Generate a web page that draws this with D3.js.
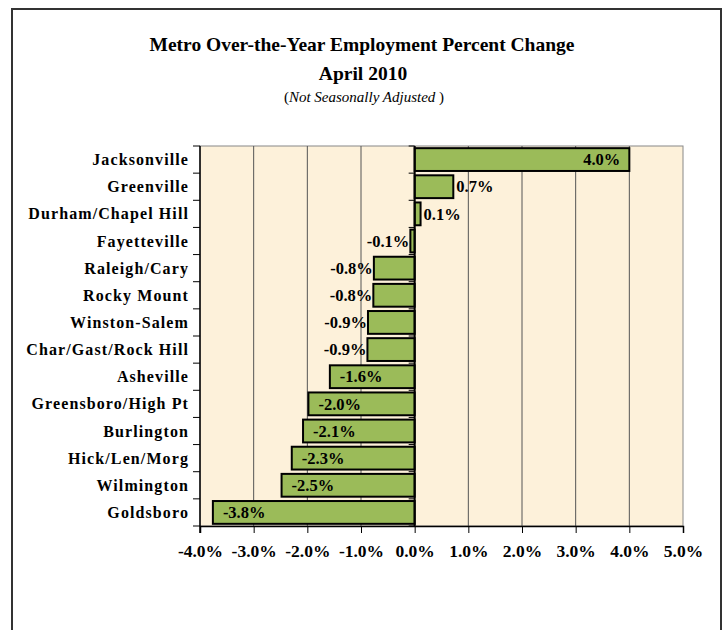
<!DOCTYPE html>
<html>
<head>
<meta charset="utf-8">
<script src="https://cdn.jsdelivr.net/npm/d3@7"></script>
<style>
  body { margin: 0; background: #fff; }
  svg text { font-family: "Liberation Serif", "Times New Roman", serif; fill: #000; }
</style>
</head>
<body>
<div class="chart"></div>
<script>
// metro areas, top to bottom
var metros = ["Jacksonville", "Greenville", "Durham/Chapel Hill", "Fayetteville", "Raleigh/Cary",
  "Rocky Mount", "Winston-Salem", "Char/Gast/Rock Hill", "Asheville", "Greensboro/High Pt",
  "Burlington", "Hick/Len/Morg", "Wilmington", "Goldsboro"];
// percent change
var pctChange = [4.0, 0.72, 0.11, -0.08, -0.76, -0.77, -0.87, -0.88, -1.58, -1.98, -2.08, -2.29, -2.48, -3.76];
var xTicks = [-4, -3, -2, -1, 0, 1, 2, 3, 4, 5];

var W = 728, H = 630;
var plot = {left: 200, right: 683, top: 146, bottom: 526};

var svg = d3.select(".chart").append("svg")
    .attr("width", W)
    .attr("height", H);

// outer frame
svg.append("rect")
    .attr("x", 12).attr("y", 9)
    .attr("width", 709).attr("height", 640)
    .attr("fill", "#fff")
    .attr("stroke", "#333")
    .attr("stroke-width", 2);

var x = d3.scaleLinear()
    .domain([-4, 5])
    .range([plot.left, plot.right]);

var y = d3.scaleBand()
    .domain(metros)
    .range([plot.top, plot.bottom])
    .paddingInner(0.16)
    .paddingOuter(0.08);

// plot background
svg.append("rect")
    .attr("x", plot.left).attr("y", plot.top)
    .attr("width", plot.right - plot.left).attr("height", plot.bottom - plot.top)
    .attr("fill", "#fdf1da")
    .attr("stroke", "#888")
    .attr("stroke-width", 1);

// gridlines
svg.selectAll(".grid")
    .data(xTicks.filter(function(d){ return d > -4 && d < 5; }))
  .enter().append("line")
    .attr("class", "grid")
    .attr("x1", function(d){ return x(d); })
    .attr("x2", function(d){ return x(d); })
    .attr("y1", plot.top)
    .attr("y2", plot.bottom)
    .attr("stroke", "#555")
    .attr("stroke-width", 1);

// bars
svg.selectAll(".bar")
    .data(pctChange)
  .enter().append("rect")
    .attr("class", "bar")
    .attr("x", function(d){ return x(Math.min(0, d)); })
    .attr("y", function(d, i){ return y(metros[i]); })
    .attr("width", function(d){ return Math.abs(x(d) - x(0)); })
    .attr("height", y.bandwidth())
    .attr("fill", "#9bbb59")
    .attr("stroke", "#000")
    .attr("stroke-width", 2);

// value labels
svg.selectAll(".val")
    .data(pctChange)
  .enter().append("text")
    .attr("class", "val")
    .attr("y", function(d, i){ return y(metros[i]) + y.bandwidth() / 2; })
    .attr("dy", "0.35em")
    .attr("font-size", 16.5)
    .attr("font-weight", "bold")
    .attr("x", function(d){
      var w = Math.abs(x(d) - x(0));
      if (d >= 0) return w > 60 ? x(d) - 9 : x(d) + 3;
      return w > 50 ? x(d) + 10 : x(d) - 1;
    })
    .attr("text-anchor", function(d){
      var w = Math.abs(x(d) - x(0));
      if (d >= 0) return w > 60 ? "end" : "start";
      return w > 50 ? "start" : "end";
    })
    .text(function(d){ return d.toFixed(1) + "%"; });

// x axis
var xAxis = d3.axisBottom(x)
    .tickValues(xTicks)
    .tickSize(7)
    .tickPadding(12)
    .tickFormat(function(d){ return d.toFixed(1) + "%"; });

var gx = svg.append("g")
    .attr("transform", "translate(0," + plot.bottom + ")")
    .call(xAxis);
gx.select(".domain").attr("stroke", "#000").attr("stroke-width", 1.5);
gx.selectAll("line").attr("stroke", "#000");
gx.selectAll("text")
    .attr("font-size", 17.5)
    .attr("font-weight", "bold")
    .attr("font-family", "Liberation Serif, serif");

// zero line and left axis
svg.append("line")
    .attr("x1", x(0)).attr("x2", x(0))
    .attr("y1", plot.top).attr("y2", plot.bottom)
    .attr("stroke", "#000").attr("stroke-width", 2);

svg.append("line")
    .attr("x1", plot.left).attr("x2", plot.left)
    .attr("y1", plot.top).attr("y2", plot.bottom + 7)
    .attr("stroke", "#000").attr("stroke-width", 1.5);

var bounds = d3.range(metros.length + 1).map(function(i){ return plot.top + i * (plot.bottom - plot.top) / metros.length; });
svg.selectAll(".ytick")
    .data(bounds)
  .enter().append("line")
    .attr("class", "ytick")
    .attr("x1", plot.left - 7).attr("x2", plot.left)
    .attr("y1", function(d){ return d; }).attr("y2", function(d){ return d; })
    .attr("stroke", "#000");

// ticks on the zero line too
svg.selectAll(".ztick")
    .data(bounds)
  .enter().append("line")
    .attr("class", "ztick")
    .attr("x1", x(0) - 6).attr("x2", x(0))
    .attr("y1", function(d){ return d; }).attr("y2", function(d){ return d; })
    .attr("stroke", "#000");

svg.selectAll(".cat")
    .data(metros)
  .enter().append("text")
    .attr("class", "cat")
    .attr("x", plot.left - 11)
    .attr("y", function(d){ return y(d) + y.bandwidth() / 2; })
    .attr("dy", "0.35em")
    .attr("text-anchor", "end")
    .attr("font-size", 16)
    .attr("letter-spacing", 1.1)
    .attr("font-weight", "bold")
    .text(function(d){ return d; });

// titles
svg.append("text")
    .attr("x", 362).attr("y", 51)
    .attr("text-anchor", "middle")
    .attr("font-size", 19.5)
    .attr("font-weight", "bold")
    .text("Metro Over-the-Year Employment Percent Change");

svg.append("text")
    .attr("x", 363).attr("y", 80)
    .attr("text-anchor", "middle")
    .attr("font-size", 19.5)
    .attr("font-weight", "bold")
    .text("April 2010");

var sub = svg.append("text")
    .attr("x", 364).attr("y", 102)
    .attr("text-anchor", "middle")
    .attr("font-size", 15);
sub.append("tspan").text("(");
sub.append("tspan").attr("font-style", "italic").text("Not Seasonally Adjusted ");
sub.append("tspan").text(")");
</script>
</body>
</html>
